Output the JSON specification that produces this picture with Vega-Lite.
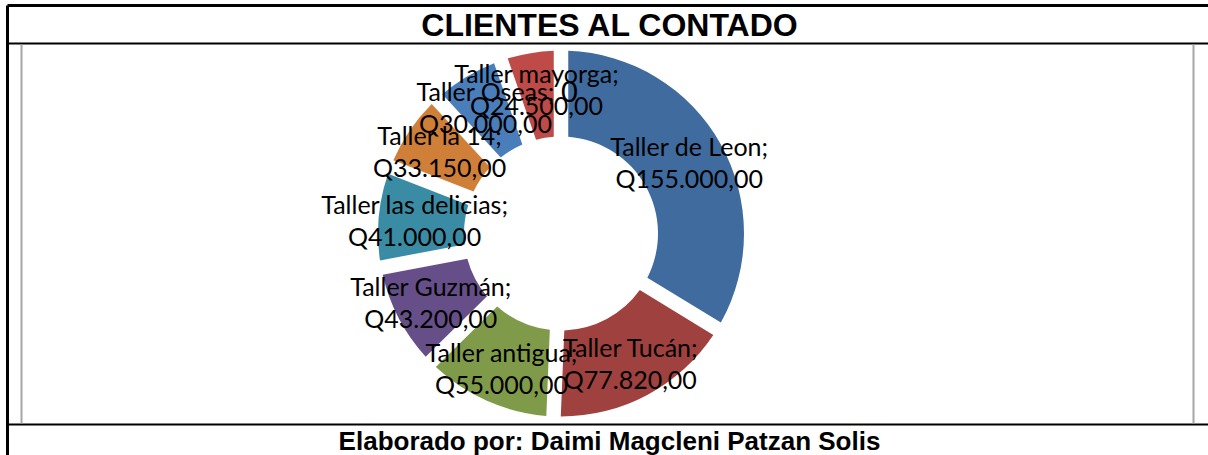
{
  "$schema": "https://vega.github.io/schema/vega-lite/v6.json",
  "width": 1080,
  "height": 379,
  "autosize": {"type": "none"},
  "padding": {"left": 21, "top": 44, "right": 107, "bottom": 32},
  "background": "white",
  "config": {"view": {"stroke": null}},
  "data": {
    "values": [
      {"taller": "Taller de Leon", "valor": 155000, "etiqueta": "Taller de Leon;\nQ155.000,00"},
      {"taller": "Taller Tucán", "valor": 77820, "etiqueta": "Taller Tucán;\nQ77.820,00"},
      {"taller": "Taller antigua", "valor": 55000, "etiqueta": "Taller antigua;\nQ55.000,00"},
      {"taller": "Taller Guzmán", "valor": 43200, "etiqueta": "Taller Guzmán;\nQ43.200,00"},
      {"taller": "Taller las delicias", "valor": 41000, "etiqueta": "Taller las delicias;\nQ41.000,00"},
      {"taller": "Taller la 14", "valor": 33150, "etiqueta": "Taller la 14;\nQ33.150,00"},
      {"taller": "Taller Oseas", "valor": 30000, "etiqueta": "Taller Oseas;\nQ30.000,00"},
      {"taller": "Taller mayorga", "valor": 24500, "etiqueta": "Taller mayorga;\nQ24.500,00"},
      {"taller": "", "valor": 0, "etiqueta": "0"}
    ]
  },
  "layer": [
    {
      "mark": {"type": "arc", "innerRadius": 97, "outerRadius": 183, "padAngle": 0.07},
      "encoding": {
        "theta": {"field": "valor", "type": "quantitative", "stack": true},
        "order": {"field": "valor", "type": "quantitative", "sort": "descending"},
        "color": {
          "field": "taller",
          "type": "nominal",
          "scale": {
            "domain": ["Taller de Leon", "Taller Tucán", "Taller antigua", "Taller Guzmán", "Taller las delicias", "Taller la 14", "Taller Oseas", "Taller mayorga", ""],
            "range": ["#406B9E", "#9F413E", "#7F9A48", "#664F88", "#3A8CA4", "#D07F39", "#4A7EBB", "#BE4B48", "#4F81BD"]
          },
          "legend": null
        }
      }
    },
    {
      "transform": [{"filter": "datum.valor > 0"}],
      "mark": {"type": "text", "radius": 147, "dy": -14, "font": "Lato", "fontSize": 25, "lineBreak": "\n", "lineHeight": 32, "color": "black", "align": "center", "baseline": "middle"},
      "encoding": {
        "theta": {"field": "valor", "type": "quantitative", "stack": true},
        "order": {"field": "valor", "type": "quantitative", "sort": "descending"},
        "text": {"field": "etiqueta", "type": "nominal"}
      }
    },
    {
      "transform": [{"filter": "datum.valor == 0"}],
      "mark": {"type": "text", "radius": 147, "dy": 6, "font": "Lato", "fontSize": 29, "color": "black", "align": "left", "baseline": "middle"},
      "encoding": {
        "theta": {"field": "valor", "type": "quantitative", "stack": true},
        "text": {"field": "etiqueta", "type": "nominal"}
      }
    },
    {
      "data": {"values": [{"k": 0}]},
      "mark": {"type": "point", "opacity": 0},
      "encoding": {
        "x": {"datum": 0, "type": "quantitative", "scale": {"domain": [0, 1], "range": [-14, 1190]},
          "axis": {"orient": "top", "offset": 1, "domainColor": "black", "domainWidth": 2, "ticks": false, "labels": false, "grid": false,
            "title": "CLIENTES AL CONTADO", "titleFont": "Liberation Sans", "titleFontSize": 32, "titleFontWeight": "bold", "titleColor": "black", "titlePadding": 8, "titleBaseline": "alphabetic"}},
        "y": {"datum": 0, "type": "quantitative", "scale": {"domain": [0, 1]},
          "axis": {"orient": "left", "domainColor": "#a6a6a6", "domainWidth": 2, "ticks": false, "labels": false, "grid": false, "title": null}}
      }
    },
    {
      "data": {"values": [{"k": 0}]},
      "mark": {"type": "point", "opacity": 0},
      "encoding": {
        "x": {"datum": 0, "type": "quantitative", "scale": {"domain": [0, 1], "range": [-14, 1190]},
          "axis": {"orient": "bottom", "offset": 1, "domainColor": "black", "domainWidth": 2, "ticks": false, "labels": false, "grid": false,
            "title": "Elaborado por: Daimi Magcleni Patzan Solis", "titleFont": "Liberation Sans", "titleFontSize": 26, "titleFontWeight": "bold", "titleColor": "black", "titlePadding": 4}},
        "y": {"datum": 0, "type": "quantitative", "scale": {"domain": [0, 1]},
          "axis": {"orient": "right", "offset": 92, "domainColor": "#a6a6a6", "domainWidth": 2, "ticks": false, "labels": false, "grid": false, "title": null}}
      }
    },
    {
      "data": {"values": [{"k": 0}]},
      "mark": {"type": "point", "opacity": 0},
      "encoding": {
        "x": {"datum": 0, "type": "quantitative", "scale": {"domain": [0, 1], "range": [-14, 1190]},
          "axis": {"orient": "top", "offset": 39, "domainColor": "black", "domainWidth": 3, "ticks": false, "labels": false, "grid": false, "title": null}},
        "y": {"datum": 0, "type": "quantitative", "scale": {"domain": [0, 1], "range": [415, -39]},
          "axis": {"orient": "left", "offset": 14, "domainColor": "black", "domainWidth": 3, "ticks": false, "labels": false, "grid": false, "title": null}}
      }
    }
  ],
  "resolve": {
    "scale": {"x": "independent", "y": "independent"},
    "axis": {"x": "independent", "y": "independent"}
  }
}
